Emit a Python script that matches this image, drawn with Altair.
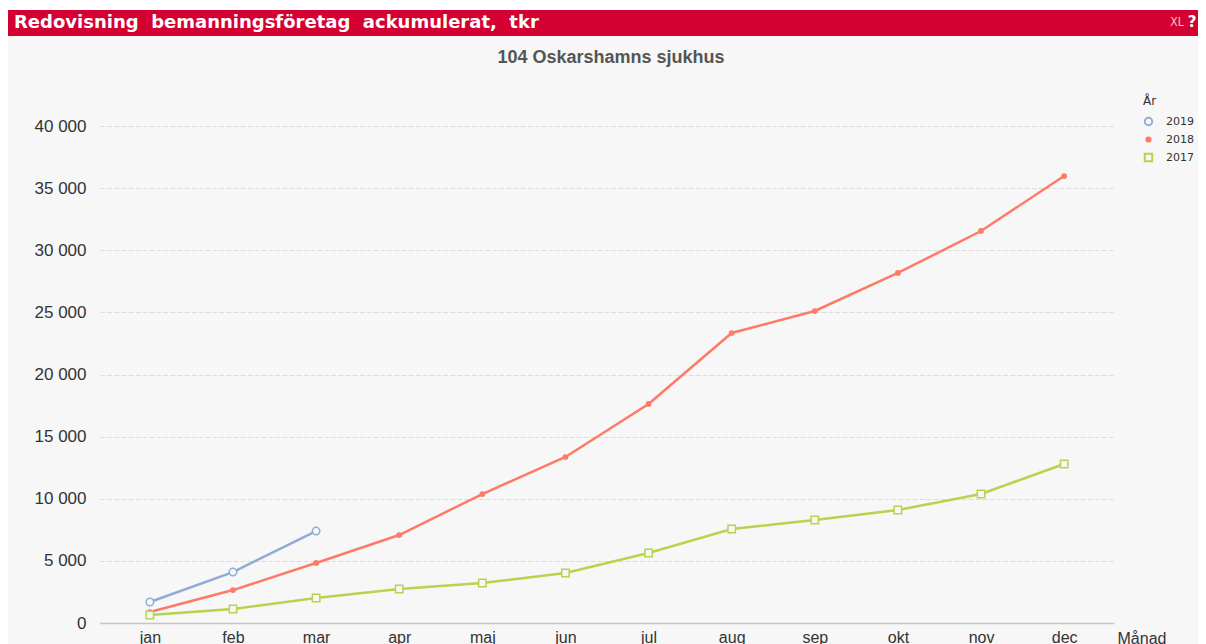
import altair as alt
import pandas as pd

# ---- data ----
months = ["jan", "feb", "mar", "apr", "maj", "jun", "jul", "aug", "sep", "okt", "nov", "dec"]
years = ["2019", "2018", "2017"]
v2019 = [1690, 4100, 7400]
v2018 = [880, 2650, 4830, 7080, 10380, 13360, 17630, 23340, 25110, 28170, 31550, 35970]
v2017 = [640, 1130, 2010, 2740, 3220, 4020, 5630, 7570, 8290, 9090, 10380, 12800]
y_ticks = [0, 5000, 10000, 15000, 20000, 25000, 30000, 35000, 40000]

NB2 = "\u00a0\u00a0"
main_title = NB2.join(["Redovisning", "bemanningsföretag", "ackumulerat,", "tkr"])
sub_title = "104 Oskarshamns sjukhus"
x_title = "Månad"
legend_title = "År"

colors = ["#8FABD6", "#FF7A66", "#B6D44C"]
shapes = ["circle", "circle", "square"]
fills = ["#F7F7F7", "#FF7A66", "#F7F7F7"]
sizes = [55, 18, 55]

rows = []
for yr, vals in zip(years, [v2019, v2018, v2017]):
    for m, v in zip(months, vals):
        rows.append({"Månad": m, "År": yr, "Värde": v})
df = pd.DataFrame(rows)

W, H = 1014, 497
PAD = {"left": 92, "top": 118, "right": 84, "bottom": 21}
BG = "#F7F7F7"
FONT = "Liberation Sans"

color_scale = alt.Scale(domain=years, range=colors)
legend = alt.Legend(
    orient="none", legendX=1043, legendY=-30, title=legend_title,
    titleFontSize=12, titleFont="DejaVu Sans", titleColor="#333", titleFontWeight="normal",
    labelFontSize=11, labelFont="DejaVu Sans", labelColor="#333",
    symbolStrokeWidth=2, symbolSize=90, rowPadding=3, titlePadding=8, labelOffset=12,
)

x_enc = alt.X(
    "Månad:N", sort=months, scale=alt.Scale(type="point", padding=0.6),
    axis=alt.Axis(
        title=x_title, titleX=W + 3, titleY=7, titleAlign="left", titleBaseline="top",
        titleFont=FONT, titleFontSize=16, titleFontWeight="normal", titleColor="#333",
        labelFont=FONT, labelFontSize=16, labelColor="#333", labelPadding=6,
        ticks=False, domainColor="#C4C4C4", domainWidth=1.5, grid=False, labelAngle=0,
    ),
)
y_enc = alt.Y(
    "Värde:Q", scale=alt.Scale(domain=[0, 40000], nice=False),
    axis=alt.Axis(
        title=None, values=y_ticks, domain=False, ticks=False,
        labelExpr="replace(format(datum.value, ','), ',', ' ')",
        labelFont=FONT, labelFontSize=17, labelColor="#333", labelPadding=14,
        grid=True, gridColor="#DCDCDC", gridDash=[5, 2], gridWidth=1,
    ),
)

base = alt.Chart(df)
lines = base.mark_line(strokeWidth=2.5).encode(
    x=x_enc, y=y_enc,
    color=alt.Color("År:N", scale=color_scale, sort=years, legend=legend),
)
points = base.mark_point(filled=False, strokeWidth=1.5, opacity=1).encode(
    x=x_enc, y=y_enc,
    color=alt.Color("År:N", scale=color_scale, sort=years, legend=legend),
    fill=alt.Fill("År:N", scale=alt.Scale(domain=years, range=fills), sort=years, legend=legend),
    shape=alt.Shape("År:N", scale=alt.Scale(domain=years, range=shapes), sort=years, legend=legend),
    size=alt.Size("År:N", scale=alt.Scale(type="ordinal", domain=years, range=sizes), sort=years, legend=legend),
)

one = alt.Data(values=[{"a": main_title, "b": sub_title, "c": "XL", "d": "?"}])
band = alt.Chart(one).mark_rect(color="#D50032").encode(
    x=alt.value(-92), x2=alt.value(W + 84), y=alt.value(-116), y2=alt.value(-90)
)
top_white = alt.Chart(one).mark_rect(color="#FFFFFF").encode(
    x=alt.value(-92), x2=alt.value(W + 84), y=alt.value(-118), y2=alt.value(-116)
)
t_main = alt.Chart(one).mark_text(
    align="left", baseline="middle", color="white", font="DejaVu Sans", fontSize=18, fontWeight="bold"
).encode(x=alt.value(-86), y=alt.value(-103), text="a:N")
t_sub = alt.Chart(one).mark_text(
    align="center", baseline="middle", color="#555555", font=FONT, fontSize=18, fontWeight="bold"
).encode(x=alt.value(511), y=alt.value(-68), text="b:N")
t_xl = alt.Chart(one).mark_text(
    align="center", baseline="middle", color="#F4C0CC", font="DejaVu Sans Condensed", fontSize=12
).encode(x=alt.value(1077), y=alt.value(-104), text="c:N")
t_q = alt.Chart(one).mark_text(
    align="center", baseline="middle", color="white", font="DejaVu Sans", fontSize=15, fontWeight="bold"
).encode(x=alt.value(1092), y=alt.value(-104), text="d:N")

chart = alt.layer(top_white, band, t_main, t_sub, t_xl, t_q, lines, points).properties(
    width=W, height=H, background=BG,
    autosize=alt.AutoSizeParams(type="none"),
    padding=PAD,
).configure_view(stroke=None)

chart.save("out.html", embed_options={"renderer": "svg", "actions": False})
